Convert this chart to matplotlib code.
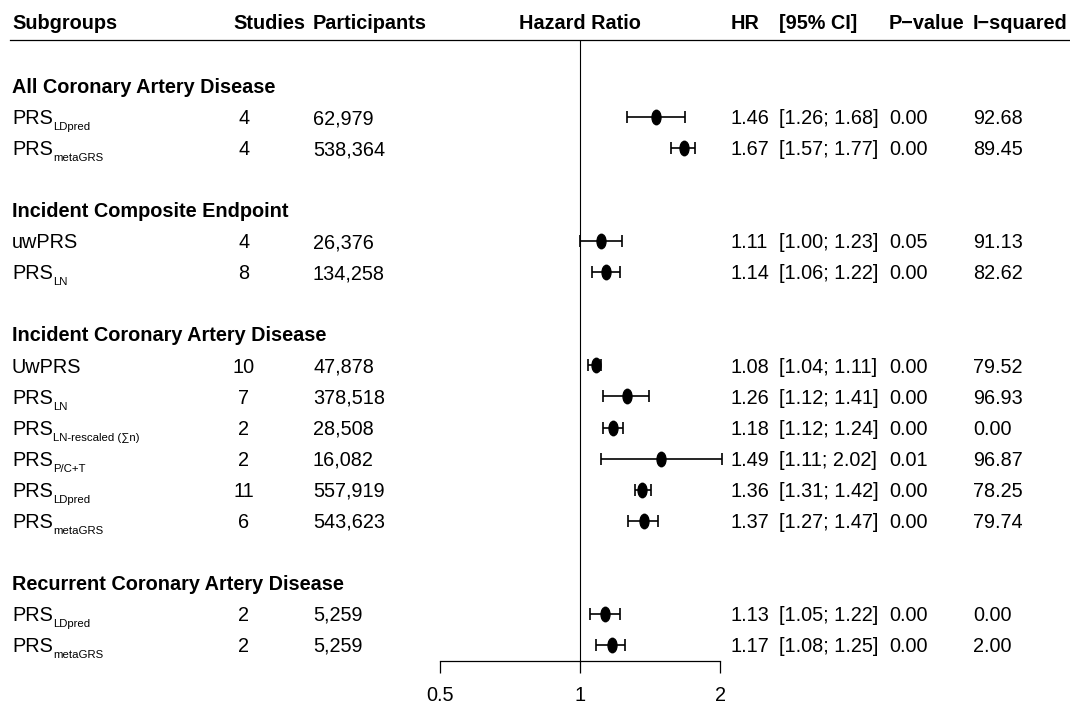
import matplotlib
matplotlib.use("Agg")
import matplotlib.pyplot as plt
from matplotlib.path import Path
from matplotlib.transforms import Affine2D, blended_transform_factory
from matplotlib.lines import Line2D

plt.rcParams['font.family'] = ['Liberation Sans', 'DejaVu Sans']
FS = 14.3

# subgroup titles and which rows belong to them
groups = ["All Coronary Artery Disease", "Incident Composite Endpoint",
          "Incident Coronary Artery Disease", "Recurrent Coronary Artery Disease"]
group_of = [0, 0, 1, 1, 2, 2, 2, 2, 2, 2, 3, 3]

labels = ["PRS", "PRS", "uwPRS", "PRS", "UwPRS", "PRS", "PRS", "PRS", "PRS", "PRS", "PRS", "PRS"]
subs = ["LDpred", "metaGRS", "", "LN", "", "LN", "LN-rescaled (\u2211n)", "P/C+T",
        "LDpred", "metaGRS", "LDpred", "metaGRS"]
studies = [4, 4, 4, 8, 10, 7, 2, 2, 11, 6, 2, 2]
participants = ["62,979", "538,364", "26,376", "134,258", "47,878", "378,518",
                "28,508", "16,082", "557,919", "543,623", "5,259", "5,259"]
hr = [1.46, 1.67, 1.11, 1.14, 1.08, 1.26, 1.18, 1.49, 1.36, 1.37, 1.13, 1.17]
lo = [1.26, 1.57, 1.00, 1.06, 1.04, 1.12, 1.12, 1.11, 1.31, 1.27, 1.05, 1.08]
hi = [1.68, 1.77, 1.23, 1.22, 1.11, 1.41, 1.24, 2.02, 1.42, 1.47, 1.22, 1.25]
pval = ["0.00", "0.00", "0.05", "0.00", "0.00", "0.00", "0.00", "0.01", "0.00", "0.00", "0.00", "0.00"]
i2 = ["92.68", "89.45", "91.13", "82.62", "79.52", "96.93", "0.00", "96.87", "78.25", "79.74", "0.00", "2.00"]

# row layout: group title, its rows, one blank line
group_rows = []
rows = []
r = 0
for g in range(len(groups)):
    group_rows.append(r)
    r += 1
    for i, gi in enumerate(group_of):
        if gi == g:
            rows.append(r)
            r += 1
    r += 1

W, H = 1070, 705
fig = plt.figure(figsize=(W / 100, H / 100), dpi=100)
ax = fig.add_axes([440 / W, 44 / H, 280 / W, 621 / H])
ax.set_xscale('log')
ax.set_xlim(0.5, 2)
ax.set_ylim(18.52, -1.48)
for s in ['left', 'right', 'top']:
    ax.spines[s].set_visible(False)
ax.spines['bottom'].set_linewidth(0.9)
ax.set_yticks([])
ax.set_xticks([0.5, 1, 2])
ax.set_xticklabels(["0.5", "1", "2"])
ax.minorticks_off()
ax.tick_params(axis='x', direction='out', length=8.6, width=0.9, pad=9.5, labelsize=FS)

ax.axvline(1, color='black', lw=0.8)

xerr = [[h - l for h, l in zip(hr, lo)], [u - h for h, u in zip(hr, hi)]]
ax.errorbar(hr, rows, xerr=xerr, fmt='none', ecolor='black', elinewidth=1.2,
            capsize=4.3, capthick=1.2, clip_on=False)
oval = Path.unit_circle().transformed(Affine2D().scale(0.62, 1))
ax.plot(hr, rows, ls='none', marker=oval, ms=10.4, color='black', clip_on=False)

tr = blended_transform_factory(fig.transFigure, ax.transData)
base = 0.23  # baseline offset in rows


def put(px, y, s, ha='left', bold=False):
    return ax.text(px / W, y + base, s, transform=tr, ha=ha, va='baseline',
                   fontsize=FS, fontweight='bold' if bold else 'normal', clip_on=False)


# header
hy = -2.06
put(12, hy, "Subgroups", bold=True)
put(233, hy, "Studies", bold=True)
put(313, hy, "Participants", bold=True)
put(580, hy, "Hazard Ratio", ha='center', bold=True)
put(731, hy, "HR", bold=True)
put(779, hy, "[95% CI]", bold=True)
put(889, hy, "P\u2212value", bold=True)
put(973, hy, "I\u2212squared", bold=True)
fig.add_artist(Line2D([10 / W, 1.0], [1 - 40 / H, 1 - 40 / H], color='black', lw=0.9))

for g, y in zip(groups, group_rows):
    put(12, y, g, bold=True)

for i, y in enumerate(rows):
    t = put(12, y, labels[i])
    if subs[i]:
        ax.annotate(subs[i], xy=(1, 0), xycoords=t, xytext=(0.3, -1.5),
                    textcoords='offset points', ha='left', va='baseline',
                    fontsize=8.2, annotation_clip=False)
    put(244, y, str(studies[i]), ha='center')
    put(313, y, participants[i])
    put(731, y, f"{hr[i]:.2f}")
    put(779, y, f"[{lo[i]:.2f}; {hi[i]:.2f}]")
    put(889, y, pval[i])
    put(973, y, i2[i])

fig.savefig("out.png", dpi=100)
